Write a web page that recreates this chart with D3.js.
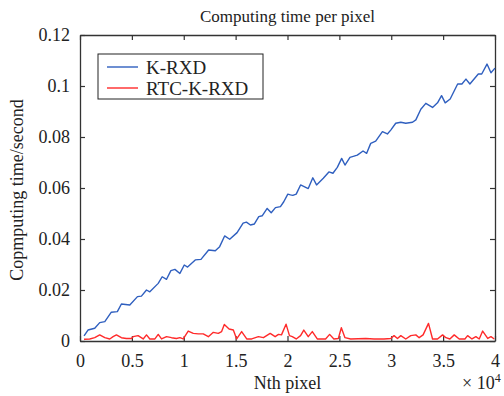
<!DOCTYPE html>
<html>
<head>
<meta charset="utf-8">
<script src="https://cdn.jsdelivr.net/npm/d3@7"></script>
<style>
  body { margin: 0; background: #fff; }
  svg text { font-family: "Liberation Serif", "Times New Roman", serif; fill: #222; }
</style>
</head>
<body>
<div id="chart"></div>
<script>
// K-RXD computing time (x in units of 10^4 pixels)
const kX = [0.039, 0.077, 0.142, 0.190, 0.239, 0.302, 0.360, 0.399, 0.480, 0.554, 0.592, 0.641, 0.673, 0.754, 0.792,
  0.834, 0.876, 0.915, 0.963, 1.005, 1.037, 1.111, 1.166, 1.240, 1.304, 1.346, 1.394, 1.443, 1.514, 1.572, 1.604,
  1.643, 1.681, 1.723, 1.756, 1.804, 1.843, 1.884, 1.932, 1.964, 2.003, 2.029, 2.051, 2.084, 2.126, 2.200, 2.244,
  2.280, 2.345, 2.399, 2.438, 2.480, 2.522, 2.554, 2.602, 2.673, 2.728, 2.763, 2.802, 2.850, 2.915, 2.963, 2.995,
  3.043, 3.092, 3.140, 3.205, 3.237, 3.285, 3.333, 3.398, 3.446, 3.485, 3.520, 3.568, 3.640, 3.681, 3.720, 3.758,
  3.839, 3.872, 3.923, 3.961, 4.0];
const kY = [0.0020, 0.0043, 0.0050, 0.0072, 0.0076, 0.0113, 0.0115, 0.0145, 0.0141, 0.0174, 0.0176, 0.0200, 0.0193, 0.0226, 0.0252,
  0.0242, 0.0276, 0.0281, 0.0265, 0.0298, 0.0290, 0.0318, 0.0320, 0.0357, 0.0354, 0.0370, 0.0412, 0.0399, 0.0425, 0.0462, 0.0466,
  0.0455, 0.0459, 0.0488, 0.0491, 0.0520, 0.0503, 0.0523, 0.0527, 0.0546, 0.0576, 0.0573, 0.0571, 0.0576, 0.0612, 0.0598, 0.0640,
  0.0612, 0.0638, 0.0663, 0.0658, 0.0681, 0.0716, 0.0690, 0.0720, 0.0729, 0.0745, 0.0736, 0.0775, 0.0784, 0.0821, 0.0812, 0.0827,
  0.0854, 0.0858, 0.0854, 0.0858, 0.0867, 0.0909, 0.0932, 0.0916, 0.0934, 0.0962, 0.0934, 0.0949, 0.1008, 0.1008, 0.1027, 0.1008,
  0.1047, 0.1047, 0.1086, 0.1052, 0.1070];

// RTC-K-RXD computing time
const rX = [0.039, 0.094, 0.142, 0.190, 0.239, 0.287, 0.319, 0.351, 0.399, 0.447, 0.496, 0.512, 0.560, 0.609, 0.641,
  0.673, 0.722, 0.754, 0.786, 0.834, 0.882, 0.930, 0.963, 0.995, 1.043, 1.092, 1.140, 1.188, 1.237, 1.285, 1.333,
  1.365, 1.391, 1.437, 1.478, 1.510, 1.558, 1.607, 1.655, 1.720, 1.768, 1.833, 1.881, 1.913, 1.942, 1.986, 2.019,
  2.046, 2.084, 2.126, 2.157, 2.200, 2.239, 2.287, 2.367, 2.406, 2.447, 2.490, 2.519, 2.554, 2.609, 2.754, 2.834,
  2.930, 2.995, 3.027, 3.060, 3.092, 3.140, 3.188, 3.237, 3.269, 3.307, 3.359, 3.398, 3.446, 3.495, 3.527, 3.565,
  3.607, 3.655, 3.710, 3.736, 3.778, 3.816, 3.848, 3.881, 3.930, 3.961, 3.993];
const rY = [0.0007, 0.0008, 0.0013, 0.0024, 0.0013, 0.0008, 0.0017, 0.0024, 0.0013, 0.0010, 0.0010, 0.0017, 0.0021, 0.0008, 0.0024,
  0.0008, 0.0008, 0.0026, 0.0008, 0.0017, 0.0013, 0.0010, 0.0013, 0.0008, 0.0039, 0.0030, 0.0028, 0.0028, 0.0017, 0.0034, 0.0030,
  0.0037, 0.0065, 0.0047, 0.0043, 0.0008, 0.0037, 0.0008, 0.0008, 0.0017, 0.0013, 0.0030, 0.0017, 0.0026, 0.0024, 0.0066, 0.0021,
  0.0017, 0.0008, 0.0021, 0.0043, 0.0017, 0.0037, 0.0008, 0.0008, 0.0026, 0.0008, 0.0010, 0.0052, 0.0013, 0.0008, 0.0010, 0.0008,
  0.0008, 0.0010, 0.0021, 0.0010, 0.0021, 0.0008, 0.0021, 0.0024, 0.0013, 0.0024, 0.0069, 0.0008, 0.0008, 0.0024, 0.0013, 0.0008,
  0.0024, 0.0008, 0.0008, 0.0021, 0.0008, 0.0017, 0.0008, 0.0039, 0.0010, 0.0017, 0.0008];

const xTicks = [0, 0.5, 1, 1.5, 2, 2.5, 3, 3.5, 4];
const yTicks = [0, 0.02, 0.04, 0.06, 0.08, 0.1, 0.12];
const seriesNames = ["K-RXD", "RTC-K-RXD"];
const seriesColors = ["#2f5fbf", "#ff2a2a"];

const W = 504, H = 396;
const margin = { top: 35, right: 9, bottom: 55, left: 80 };
const width = W - margin.left - margin.right;
const height = H - margin.top - margin.bottom;

const svg = d3.select("#chart").append("svg")
    .attr("width", W)
    .attr("height", H);

const g = svg.append("g")
    .attr("transform", "translate(" + margin.left + "," + margin.top + ")");

const x = d3.scaleLinear().domain([0, 4]).range([0, width]);
const y = d3.scaleLinear().domain([0, 0.12]).range([height, 0]);

// axes (ticks pointing inward, like matlab)
const fmtY = d => d === 0 ? "0" : String(+d.toFixed(2));
const fmtX = d => String(d);

g.append("g")
    .attr("class", "x axis")
    .attr("transform", "translate(0," + height + ")")
    .call(d3.axisBottom(x).tickValues(xTicks).tickFormat(fmtX).tickSizeInner(-5).tickSizeOuter(0).tickPadding(13));
g.append("g")
    .attr("transform", "translate(0,0)")
    .call(d3.axisTop(x).tickValues(xTicks).tickFormat("").tickSizeInner(-5).tickSizeOuter(0));
g.append("g")
    .attr("class", "y axis")
    .call(d3.axisLeft(y).tickValues(yTicks).tickFormat(fmtY).tickSizeInner(-5).tickSizeOuter(0).tickPadding(10));
g.append("g")
    .attr("transform", "translate(" + width + ",0)")
    .call(d3.axisRight(y).tickValues(yTicks).tickFormat("").tickSizeInner(-5).tickSizeOuter(0));

g.selectAll(".domain").attr("stroke", "#333").attr("stroke-width", 1.3);
g.selectAll(".tick line").attr("stroke", "#333").attr("stroke-width", 1.2);
g.selectAll(".tick text")
    .style("font-family", "'Liberation Serif', serif")
    .style("font-size", "18px")
    .attr("fill", "#222");

// lines
const line = d3.line().x(d => x(d[0])).y(d => y(d[1]));
const series = [d3.zip(kX, kY), d3.zip(rX, rY)];

g.selectAll(".series")
    .data(series)
    .enter().append("path")
    .attr("class", "series")
    .attr("fill", "none")
    .attr("stroke", (d, i) => seriesColors[i])
    .attr("stroke-width", 1.4)
    .attr("stroke-linejoin", "round")
    .attr("d", line);

// legend
const legend = g.append("g").attr("transform", "translate(18,19)");
legend.append("rect")
    .attr("width", 165)
    .attr("height", 45)
    .attr("fill", "#fff")
    .attr("stroke", "#222")
    .attr("stroke-width", 1);
seriesNames.forEach((name, i) => {
    legend.append("line")
        .attr("x1", 9).attr("x2", 40)
        .attr("y1", 13 + i * 21).attr("y2", 13 + i * 21)
        .attr("stroke", seriesColors[i])
        .attr("stroke-width", 1.4);
    legend.append("text")
        .attr("x", 48)
        .attr("y", 13 + i * 21)
        .attr("dy", "0.35em")
        .style("font-size", "19px")
        .text(name);
});

// labels
svg.append("text")
    .attr("x", margin.left + width / 2)
    .attr("y", 22)
    .attr("text-anchor", "middle")
    .style("font-size", "17px")
    .text("Computing time per pixel");

svg.append("text")
    .attr("x", margin.left + width / 2)
    .attr("y", 389)
    .attr("text-anchor", "middle")
    .style("font-size", "18px")
    .text("Nth pixel");

svg.append("text")
    .attr("transform", "translate(23," + (margin.top + height / 2 + 2) + ") rotate(-90)")
    .attr("text-anchor", "middle")
    .style("font-size", "18px")
    .text("Copmputing time/second");

const expo = svg.append("text")
    .attr("x", 462)
    .attr("y", 389)
    .style("font-size", "18px")
    .text("× 10");
expo.append("tspan")
    .attr("dy", -7)
    .style("font-size", "12px")
    .text("4");
</script>
</body>
</html>
